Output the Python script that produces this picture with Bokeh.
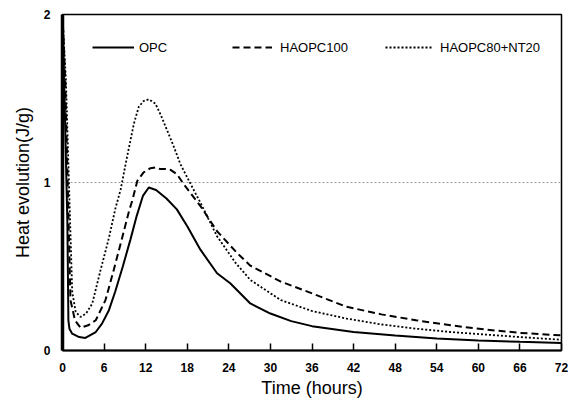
from bokeh.plotting import figure
from bokeh.models import Range1d, Legend, LegendItem, FixedTicker
from bokeh.embed import file_html
from bokeh.resources import INLINE

# ---- data ----
opc_t = [0, 0.35, 0.7, 0.85, 1.0, 1.4, 2.4, 3.3, 4.8, 5.7, 6.7, 7.6, 8.7, 9.8, 10.7, 11.6, 12.45, 13.5, 15, 16.5,
         18, 19.9, 22.3, 24.2, 27.1, 30, 33, 36, 42, 48, 54, 60, 66, 72]
opc = [2.0, 1.4, 0.77, 0.18, 0.13, 0.10, 0.08, 0.075, 0.11, 0.16, 0.24, 0.35, 0.50, 0.66, 0.80, 0.92, 0.97, 0.955, 0.905, 0.84,
       0.74, 0.60, 0.46, 0.40, 0.28, 0.22, 0.175, 0.145, 0.11, 0.09, 0.072, 0.06, 0.052, 0.045]

ha100_t = [0, 0.4, 0.8, 1.15, 1.8, 2.6, 3.7, 4.8, 6.2, 7.4, 8.6, 9.6, 10.05, 10.8, 11.7, 12.7, 13.4, 14.1, 14.9, 15.6,
           16.5, 17.5, 19.9, 22.3, 25.2, 27.1, 31.5, 36, 41, 46, 51, 56, 61, 66, 72]
ha100 = [2.0, 1.6, 0.9, 0.3, 0.18, 0.135, 0.15, 0.18, 0.30, 0.48, 0.67, 0.83, 0.89, 1.01, 1.06, 1.085, 1.09, 1.08, 1.08, 1.075,
         1.05, 0.99, 0.86, 0.71, 0.58, 0.505, 0.41, 0.34, 0.26, 0.215, 0.18, 0.15, 0.125, 0.105, 0.09]

ha80_t = [0, 0.5, 1.0, 1.4, 1.9, 2.6, 3.4, 4.3, 5.5, 6.7, 7.6, 8.4, 9.3, 10.3, 11.0, 11.7, 12.45, 13.4, 14.2, 15.1,
          16.0, 17.0, 18.5, 19.9, 22.3, 25, 27.1, 31.5, 36, 41, 46, 51, 56, 61, 66, 72]
ha80 = [2.0, 1.6, 0.9, 0.35, 0.23, 0.20, 0.22, 0.28, 0.48, 0.67, 0.84, 0.96, 1.15, 1.35, 1.45, 1.485, 1.495, 1.47, 1.40, 1.31,
        1.22, 1.11, 0.99, 0.88, 0.68, 0.52, 0.42, 0.30, 0.235, 0.19, 0.155, 0.13, 0.11, 0.095, 0.08, 0.064]

x_ticks = [0, 6, 12, 18, 24, 30, 36, 42, 48, 54, 60, 66, 72]
y_ticks = [0, 1, 2]
series_names = ["OPC", "HAOPC100", "HAOPC80+NT20"]

FONT = "Liberation Sans"

p = figure(width=568, height=406, output_backend="svg", toolbar_location=None,
           x_range=Range1d(0, 72), y_range=Range1d(0, 2),
           min_border_left=62, min_border_right=7, min_border_top=14, min_border_bottom=56)

p.background_fill_color = "white"
p.border_fill_color = "white"
p.outline_line_color = "black"
p.outline_line_width = 1.5

# grid: only a dotted line at y = 1
p.xgrid.visible = False
p.ygrid.ticker = FixedTicker(ticks=[1])
p.ygrid.grid_line_color = "#999999"
p.ygrid.grid_line_dash = "2 2"
p.ygrid.grid_line_width = 1

# axes
p.xaxis.ticker = FixedTicker(ticks=x_ticks)
p.yaxis.ticker = FixedTicker(ticks=y_ticks)
p.xaxis.axis_label = "Time (hours)"
p.yaxis.axis_label = "Heat evolution(J/g)"
for ax in (p.xaxis[0], p.yaxis[0]):
    ax.axis_label_text_font = FONT
    ax.axis_label_text_font_size = "18px"
    ax.axis_label_text_font_style = "normal"
    ax.axis_label_text_color = "black"
    ax.major_label_text_font = FONT
    ax.major_label_text_font_style = "bold"
    ax.major_label_text_font_size = "12px"
    ax.major_label_text_color = "black"
    ax.minor_tick_line_color = None
    ax.axis_line_color = "black"

p.xaxis.axis_line_width = 2
p.xaxis.major_tick_in = 7
p.xaxis.major_tick_out = 0
p.xaxis.major_tick_line_width = 1.5
p.xaxis.major_label_standoff = 12
p.xaxis.axis_label_standoff = 3

p.yaxis.axis_line_width = 3.5
p.yaxis.major_tick_in = 0
p.yaxis.major_tick_out = 0
p.yaxis.major_label_standoff = 12
p.yaxis.axis_label_standoff = 8

# curves
r1 = p.line(opc_t, opc, line_color="black", line_width=2)
r2 = p.line(ha100_t, ha100, line_color="black", line_width=2, line_dash="7 4")
r3 = p.line(ha80_t, ha80, line_color="black", line_width=1.8, line_dash="2 2")

# legend: three separate one-item legends placed across the top
pos = [(30, 293), (170, 293), (323, 293)]
glyph_w = [42, 40, 48]
standoff = [5, 8, 7]
for r, name, (lx, ly), gw, so in zip([r1, r2, r3], series_names, pos, glyph_w, standoff):
    lg = Legend(items=[LegendItem(label=name, renderers=[r])], location=(lx, ly),
                orientation="horizontal", glyph_width=gw, glyph_height=20,
                label_standoff=so, padding=0, margin=0, spacing=0,
                border_line_color=None, background_fill_alpha=0,
                label_text_font=FONT, label_text_font_size="13px",
                label_text_color="black")
    p.add_layout(lg, "center")

open("out.html", "w").write(file_html(p, INLINE))
